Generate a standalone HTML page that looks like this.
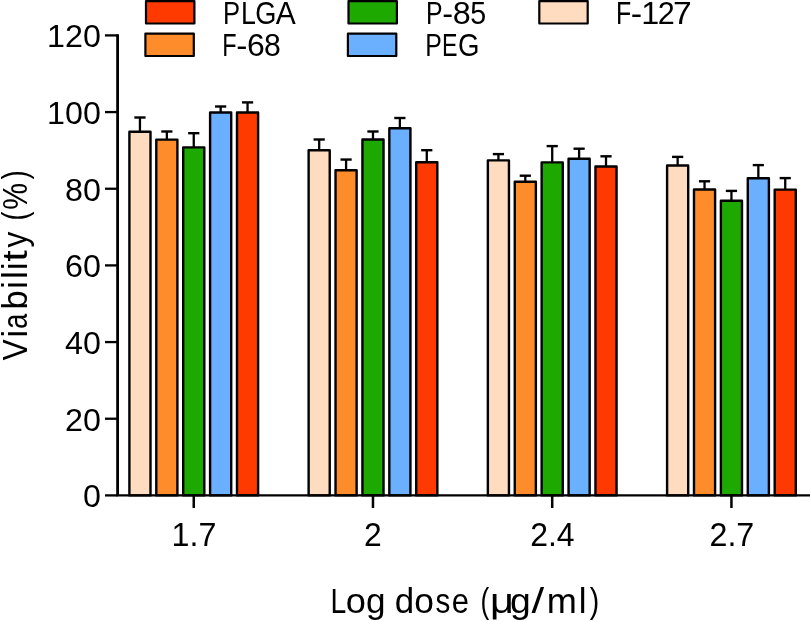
<!DOCTYPE html>
<html><head><meta charset="utf-8"><style>
html,body{margin:0;padding:0;background:#fff;}
svg{display:block;will-change:transform;}
text{font-family:"Liberation Sans",sans-serif;fill:#000;}
</style></head><body>
<svg width="810" height="621" viewBox="0 0 810 621">
<path d="M139.95 131.80V117.50" stroke="#000" stroke-width="2.3"/>
<path d="M134.35 117.50H145.55" stroke="#000" stroke-width="2.4"/>
<path d="M166.85 139.60V131.50" stroke="#000" stroke-width="2.3"/>
<path d="M161.25 131.50H172.45" stroke="#000" stroke-width="2.4"/>
<path d="M193.75 147.40V133.20" stroke="#000" stroke-width="2.3"/>
<path d="M188.15 133.20H199.35" stroke="#000" stroke-width="2.4"/>
<path d="M220.65 112.50V106.50" stroke="#000" stroke-width="2.3"/>
<path d="M215.05 106.50H226.25" stroke="#000" stroke-width="2.4"/>
<path d="M247.55 112.50V102.40" stroke="#000" stroke-width="2.3"/>
<path d="M241.95 102.40H253.15" stroke="#000" stroke-width="2.4"/>
<path d="M319.18 150.20V139.50" stroke="#000" stroke-width="2.3"/>
<path d="M313.58 139.50H324.78" stroke="#000" stroke-width="2.4"/>
<path d="M346.08 170.30V159.55" stroke="#000" stroke-width="2.3"/>
<path d="M340.48 159.55H351.68" stroke="#000" stroke-width="2.4"/>
<path d="M372.98 139.50V131.50" stroke="#000" stroke-width="2.3"/>
<path d="M367.38 131.50H378.58" stroke="#000" stroke-width="2.4"/>
<path d="M399.88 128.30V118.00" stroke="#000" stroke-width="2.3"/>
<path d="M394.28 118.00H405.48" stroke="#000" stroke-width="2.4"/>
<path d="M426.78 162.30V150.20" stroke="#000" stroke-width="2.3"/>
<path d="M421.18 150.20H432.38" stroke="#000" stroke-width="2.4"/>
<path d="M498.41 160.40V154.10" stroke="#000" stroke-width="2.3"/>
<path d="M492.81 154.10H504.01" stroke="#000" stroke-width="2.4"/>
<path d="M525.31 181.80V175.70" stroke="#000" stroke-width="2.3"/>
<path d="M519.71 175.70H530.91" stroke="#000" stroke-width="2.4"/>
<path d="M552.21 162.40V146.10" stroke="#000" stroke-width="2.3"/>
<path d="M546.61 146.10H557.81" stroke="#000" stroke-width="2.4"/>
<path d="M579.11 158.80V148.70" stroke="#000" stroke-width="2.3"/>
<path d="M573.51 148.70H584.71" stroke="#000" stroke-width="2.4"/>
<path d="M606.01 166.50V156.30" stroke="#000" stroke-width="2.3"/>
<path d="M600.41 156.30H611.61" stroke="#000" stroke-width="2.4"/>
<path d="M677.64 165.50V156.90" stroke="#000" stroke-width="2.3"/>
<path d="M672.04 156.90H683.24" stroke="#000" stroke-width="2.4"/>
<path d="M704.54 189.50V181.30" stroke="#000" stroke-width="2.3"/>
<path d="M698.94 181.30H710.14" stroke="#000" stroke-width="2.4"/>
<path d="M731.44 200.80V190.90" stroke="#000" stroke-width="2.3"/>
<path d="M725.84 190.90H737.04" stroke="#000" stroke-width="2.4"/>
<path d="M758.34 178.30V165.10" stroke="#000" stroke-width="2.3"/>
<path d="M752.74 165.10H763.94" stroke="#000" stroke-width="2.4"/>
<path d="M785.24 189.60V178.10" stroke="#000" stroke-width="2.3"/>
<path d="M779.64 178.10H790.84" stroke="#000" stroke-width="2.4"/>
<rect x="129.40" y="131.80" width="21.10" height="363.60" fill="#FFDBBF" stroke="#000" stroke-width="2.4" stroke-linejoin="round"/>
<rect x="156.30" y="139.60" width="21.10" height="355.80" fill="#FF8C2B" stroke="#000" stroke-width="2.4" stroke-linejoin="round"/>
<rect x="183.20" y="147.40" width="21.10" height="348.00" fill="#1EA900" stroke="#000" stroke-width="2.4" stroke-linejoin="round"/>
<rect x="210.10" y="112.50" width="21.10" height="382.90" fill="#6BAFFF" stroke="#000" stroke-width="2.4" stroke-linejoin="round"/>
<rect x="237.00" y="112.50" width="21.10" height="382.90" fill="#FF3A00" stroke="#000" stroke-width="2.4" stroke-linejoin="round"/>
<rect x="308.63" y="150.20" width="21.10" height="345.20" fill="#FFDBBF" stroke="#000" stroke-width="2.4" stroke-linejoin="round"/>
<rect x="335.53" y="170.30" width="21.10" height="325.10" fill="#FF8C2B" stroke="#000" stroke-width="2.4" stroke-linejoin="round"/>
<rect x="362.43" y="139.50" width="21.10" height="355.90" fill="#1EA900" stroke="#000" stroke-width="2.4" stroke-linejoin="round"/>
<rect x="389.33" y="128.30" width="21.10" height="367.10" fill="#6BAFFF" stroke="#000" stroke-width="2.4" stroke-linejoin="round"/>
<rect x="416.23" y="162.30" width="21.10" height="333.10" fill="#FF3A00" stroke="#000" stroke-width="2.4" stroke-linejoin="round"/>
<rect x="487.86" y="160.40" width="21.10" height="335.00" fill="#FFDBBF" stroke="#000" stroke-width="2.4" stroke-linejoin="round"/>
<rect x="514.76" y="181.80" width="21.10" height="313.60" fill="#FF8C2B" stroke="#000" stroke-width="2.4" stroke-linejoin="round"/>
<rect x="541.66" y="162.40" width="21.10" height="333.00" fill="#1EA900" stroke="#000" stroke-width="2.4" stroke-linejoin="round"/>
<rect x="568.56" y="158.80" width="21.10" height="336.60" fill="#6BAFFF" stroke="#000" stroke-width="2.4" stroke-linejoin="round"/>
<rect x="595.46" y="166.50" width="21.10" height="328.90" fill="#FF3A00" stroke="#000" stroke-width="2.4" stroke-linejoin="round"/>
<rect x="667.09" y="165.50" width="21.10" height="329.90" fill="#FFDBBF" stroke="#000" stroke-width="2.4" stroke-linejoin="round"/>
<rect x="693.99" y="189.50" width="21.10" height="305.90" fill="#FF8C2B" stroke="#000" stroke-width="2.4" stroke-linejoin="round"/>
<rect x="720.89" y="200.80" width="21.10" height="294.60" fill="#1EA900" stroke="#000" stroke-width="2.4" stroke-linejoin="round"/>
<rect x="747.79" y="178.30" width="21.10" height="317.10" fill="#6BAFFF" stroke="#000" stroke-width="2.4" stroke-linejoin="round"/>
<rect x="774.69" y="189.60" width="21.10" height="305.80" fill="#FF3A00" stroke="#000" stroke-width="2.4" stroke-linejoin="round"/>
<path d="M117.6 34.2V495.4" stroke="#000" stroke-width="2.8"/>
<path d="M116.19999999999999 495.4H810" stroke="#000" stroke-width="2.4"/>
<path d="M105 495.40H117.6" stroke="#000" stroke-width="2.3"/>
<text transform="translate(83.04,507.44) scale(1.0000,1)" style="font-size:32.25px">0</text>
<path d="M105 418.73H117.6" stroke="#000" stroke-width="2.3"/>
<text transform="translate(64.98,430.77) scale(1.0000,1)" style="font-size:32.25px">20</text>
<path d="M105 342.07H117.6" stroke="#000" stroke-width="2.3"/>
<text transform="translate(64.98,354.11) scale(1.0000,1)" style="font-size:32.25px">40</text>
<path d="M105 265.40H117.6" stroke="#000" stroke-width="2.3"/>
<text transform="translate(64.98,277.44) scale(1.0000,1)" style="font-size:32.25px">60</text>
<path d="M105 188.74H117.6" stroke="#000" stroke-width="2.3"/>
<text transform="translate(64.98,200.78) scale(1.0000,1)" style="font-size:32.25px">80</text>
<path d="M105 112.07H117.6" stroke="#000" stroke-width="2.3"/>
<text transform="translate(47.08,124.11) scale(1.0000,1)" style="font-size:32.25px">100</text>
<path d="M105 35.40H117.6" stroke="#000" stroke-width="2.3"/>
<text transform="translate(47.08,47.44) scale(1.0000,1)" style="font-size:32.25px">120</text>
<path d="M193.75 495.4V508" stroke="#000" stroke-width="2.5"/>
<text transform="translate(171.58,546.00) scale(0.9955,1)" style="font-size:32.4px">1.7</text>
<path d="M372.98 495.4V508" stroke="#000" stroke-width="2.5"/>
<text transform="translate(364.01,546.00) scale(0.9836,1)" style="font-size:32.4px">2</text>
<path d="M552.21 495.4V508" stroke="#000" stroke-width="2.5"/>
<text transform="translate(530.20,546.00) scale(0.9872,1)" style="font-size:32.4px">2.4</text>
<path d="M731.44 495.4V508" stroke="#000" stroke-width="2.5"/>
<text transform="translate(709.49,546.00) scale(0.9953,1)" style="font-size:32.4px">2.7</text>
<rect x="146.00" y="1.10" width="48.4" height="22.4" fill="#FF3A00" stroke="#000" stroke-width="2.2" stroke-linejoin="round"/>
<text transform="translate(223.05,23.80) scale(0.8260,1)" style="font-size:31px">P</text>
<text transform="translate(241.06,23.80) scale(0.8626,1)" style="font-size:31px">L</text>
<text transform="translate(255.14,23.80) scale(0.8766,1)" style="font-size:31px">G</text>
<text transform="translate(275.65,23.80) scale(0.9677,1)" style="font-size:31px">A</text>
<rect x="145.40" y="33.60" width="48.4" height="22.4" fill="#FF8C2B" stroke="#000" stroke-width="2.2" stroke-linejoin="round"/>
<text transform="translate(222.22,55.80) scale(0.7571,1)" style="font-size:31px">F</text>
<text transform="translate(236.19,55.80) scale(1.0797,1)" style="font-size:31px">-</text>
<text transform="translate(246.90,55.80) scale(1.0309,1)" style="font-size:31px">6</text>
<text transform="translate(264.04,55.80) scale(0.9746,1)" style="font-size:31px">8</text>
<rect x="348.50" y="1.10" width="48.4" height="22.4" fill="#1EA900" stroke="#000" stroke-width="2.2" stroke-linejoin="round"/>
<text transform="translate(426.01,23.80) scale(0.8019,1)" style="font-size:31px">P</text>
<text transform="translate(442.23,23.80) scale(1.0533,1)" style="font-size:31px">-</text>
<text transform="translate(452.64,23.80) scale(1.0432,1)" style="font-size:31px">8</text>
<text transform="translate(470.25,23.80) scale(0.9236,1)" style="font-size:31px">5</text>
<rect x="347.90" y="33.60" width="48.4" height="22.4" fill="#6BAFFF" stroke="#000" stroke-width="2.2" stroke-linejoin="round"/>
<text transform="translate(425.21,55.80) scale(0.8019,1)" style="font-size:31px">P</text>
<text transform="translate(442.10,55.80) scale(0.7500,1)" style="font-size:31px">E</text>
<text transform="translate(457.92,55.80) scale(0.8914,1)" style="font-size:31px">G</text>
<rect x="539.30" y="1.10" width="48.4" height="22.4" fill="#FFDBBF" stroke="#000" stroke-width="2.2" stroke-linejoin="round"/>
<text transform="translate(616.11,23.80) scale(0.8032,1)" style="font-size:31px">F</text>
<text transform="translate(630.76,23.80) scale(1.1060,1)" style="font-size:31px">-</text>
<text transform="translate(641.18,23.80) scale(1.0428,1)" style="font-size:31px">1</text>
<text transform="translate(657.87,23.80) scale(0.9855,1)" style="font-size:31px">2</text>
<text transform="translate(673.02,23.80) scale(1.0847,1)" style="font-size:31px">7</text>
<text transform="translate(330.43,612.80) scale(0.8074,1)" style="font-size:35.07px">L</text>
<text transform="translate(345.85,612.80) scale(1.0325,1)" style="font-size:35.07px">o</text>
<text transform="translate(366.10,612.80) scale(1.0012,1)" style="font-size:35.07px">g</text>
<text transform="translate(394.70,612.80) scale(0.9948,1)" style="font-size:35.07px">d</text>
<text transform="translate(414.29,612.80) scale(1.0085,1)" style="font-size:35.07px">o</text>
<text transform="translate(435.51,612.80) scale(0.8456,1)" style="font-size:35.07px">s</text>
<text transform="translate(451.81,612.80) scale(0.8830,1)" style="font-size:35.07px">e</text>
<text transform="translate(480.59,612.80) scale(0.7500,1)" style="font-size:35.07px">(</text>
<text transform="translate(490.10,612.80) scale(1.1859,1)" style="font-size:35.07px">&#956;</text>
<text transform="translate(510.11,612.80) scale(1.0645,1)" style="font-size:35.07px">g</text>
<text transform="translate(531.48,612.80) scale(1.3000,1)" style="font-size:35.07px">/</text>
<text transform="translate(546.75,612.80) scale(1.0306,1)" style="font-size:35.07px">m</text>
<text transform="translate(578.69,612.80) scale(1.0000,1)" style="font-size:35.07px">l</text>
<text transform="translate(589.72,612.80) scale(0.8116,1)" style="font-size:35.07px">)</text>
<text transform="translate(27,360.56) rotate(-90) scale(0.8938,1)" style="font-size:35.7px">V</text>
<text transform="translate(27,337.83) rotate(-90) scale(1.0000,1)" style="font-size:35.7px">i</text>
<text transform="translate(27,328.94) rotate(-90) scale(0.7744,1)" style="font-size:35.7px">a</text>
<text transform="translate(27,309.54) rotate(-90) scale(0.9648,1)" style="font-size:35.7px">b</text>
<text transform="translate(27,289.03) rotate(-90) scale(1.0000,1)" style="font-size:35.7px">i</text>
<text transform="translate(27,279.03) rotate(-90) scale(1.0000,1)" style="font-size:35.7px">l</text>
<text transform="translate(27,270.33) rotate(-90) scale(1.0000,1)" style="font-size:35.7px">i</text>
<text transform="translate(27,261.51) rotate(-90) scale(1.1314,1)" style="font-size:35.7px">t</text>
<text transform="translate(27,247.56) rotate(-90) scale(0.8861,1)" style="font-size:35.7px">y</text>
<text transform="translate(27,220.50) rotate(-90) scale(0.7500,1)" style="font-size:35.7px">(</text>
<text transform="translate(27,209.66) rotate(-90) scale(0.8472,1)" style="font-size:35.7px">%</text>
<text transform="translate(27,179.58) rotate(-90) scale(0.7757,1)" style="font-size:35.7px">)</text>
</svg>
</body></html>
